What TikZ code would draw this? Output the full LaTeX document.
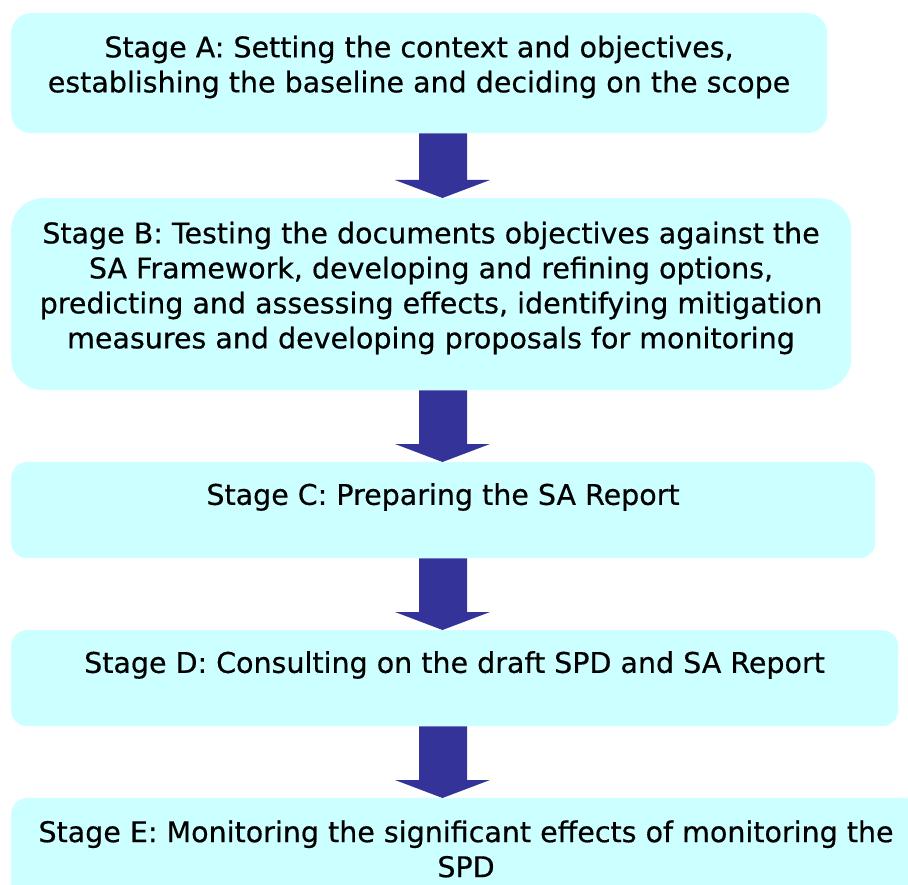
\documentclass[tikz,border=0pt]{standalone}
\usepackage{fontspec}
\setmainfont[FakeBold=0.5]{DejaVu Sans}
\usetikzlibrary{calc}

\definecolor{stagecyan}{HTML}{CCFFFF}
\definecolor{arrowblue}{HTML}{333399}

\tikzset{
  stagebox/.style={fill=stagecyan, draw=none, anchor=north west, inner sep=0pt},
  stagetext/.style={align=center, inner sep=0pt, font=\fontsize{28.5}{35}\selectfont},
}

\begin{document}
\begin{tikzpicture}[x=1pt,y=-1pt]
\useasboundingbox (0,0) rectangle (908,885);

% boxes of the five stages
\node[stagebox, minimum width=816pt, minimum height=120pt, rounded corners=20pt] (boxA) at (11,13) {};
\node[stagebox, minimum width=840pt, minimum height=192pt, rounded corners=32pt] (boxB) at (11,198) {};
\node[stagebox, minimum width=864pt, minimum height=96pt, rounded corners=16pt] (boxC) at (11,462) {};
\node[stagebox, minimum width=887pt, minimum height=96pt, rounded corners=16pt] (boxD) at (11,630) {};
\node[stagebox, minimum width=910pt, minimum height=110pt, rounded corners=16pt] (boxE) at (11,798) {};

% texts
\node[stagetext] (textA) at (419,67) {Stage A: Setting the context and objectives,\\establishing the baseline and deciding on the scope};
\node[stagetext] (textB) at (431,288) {Stage B: Testing the documents objectives against the\\SA Framework, developing and refining options,\\predicting and assessing effects, identifying mitigation\\measures and developing proposals for monitoring};
\node[stagetext] (textC) at (443,497) {Stage C: Preparing the SA Report};
\node[stagetext] (textD) at (454.5,665) {Stage D: Consulting on the draft SPD and SA Report};
\node[stagetext] (textE) at (466,849) {Stage E: Monitoring the significant effects of monitoring the\\SPD};

% block arrows from one stage to the next
\foreach \from/\to in {boxA/boxB,boxB/boxC,boxC/boxD,boxD/boxE}{%
    \fill[arrowblue] let \p1=(\from.south), \p2=(\to.north) in
        ({419pt},{\y1}) -- ({467pt},{\y1}) -- ({467pt},{\y2+18pt}) -- ({490pt},{\y2+18pt})
        -- ({442.5pt},{\y2}) -- ({395pt},{\y2+18pt}) -- ({419pt},{\y2+18pt}) -- cycle;}

\end{tikzpicture}
\end{document}
